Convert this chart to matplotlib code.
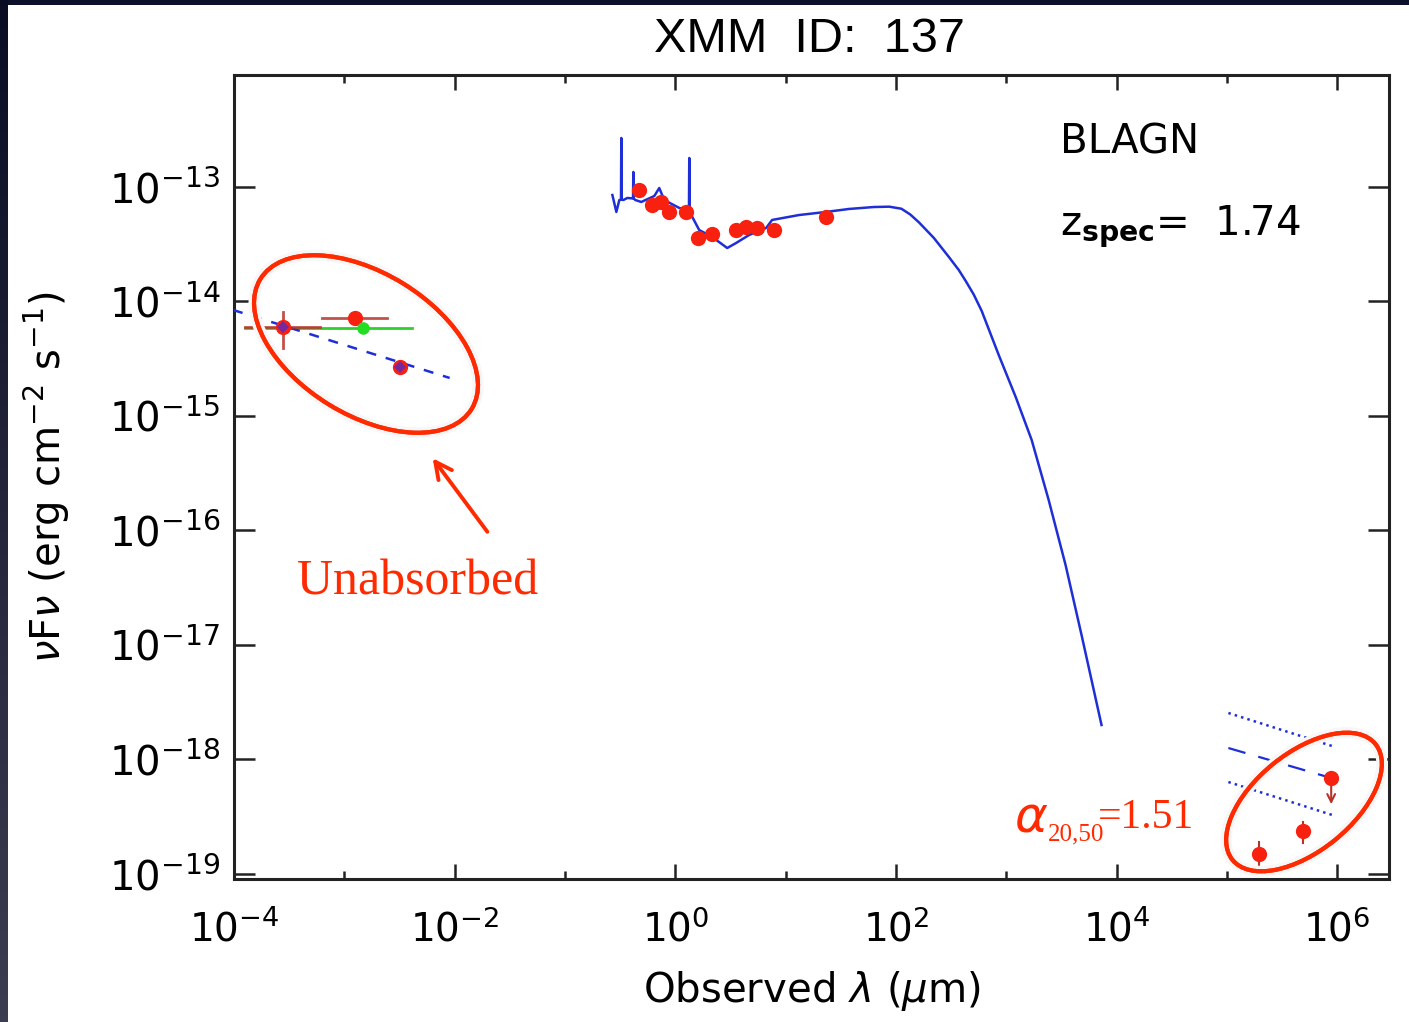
import numpy as np;
import matplotlib;
matplotlib.use( "Agg" );
import matplotlib.pyplot as plt;
import matplotlib.patheffects as pe;
from matplotlib.patches import Ellipse;
from matplotlib.ticker import FixedLocator, LogFormatterSciNotation, NullFormatter, NullLocator;

# All values are log10.

# Best fit SED template (blue solid).

model_log_lam  = [ -0.570, -0.534, -0.507, -0.492, -0.489, -0.486, -0.471, -0.434, -0.383, -0.380, -0.377,
                   -0.362, -0.308, -0.190, -0.145, -0.100, 0.036, 0.109, 0.124, 0.127, 0.130, 0.145, 0.217,
                   0.335, 0.471, 0.552, 0.670, 0.824, 0.878, 1.122, 1.367, 1.575, 1.800, 1.940, 2.050, 2.130, 2.210,
                   2.344, 2.480, 2.570, 2.633, 2.706, 2.778, 2.932, 3.086, 3.231, 3.385, 3.538, 3.683, 3.864 ];
model_log_flux = [ -13.070, -13.218, -13.114, -13.110, -12.572, -13.110, -13.114, -13.096, -13.100, -12.869, -13.100,
                   -13.114, -13.131, -13.079, -13.009, -13.114, -13.183, -13.201, -13.210, -12.747, -13.215, -13.245, -13.376,
                   -13.437, -13.533, -13.489, -13.419, -13.358, -13.288, -13.245, -13.218, -13.192, -13.175, -13.172, -13.190, -13.240, -13.310,
                   -13.445, -13.611, -13.725, -13.821, -13.940, -14.083, -14.467, -14.834, -15.210, -15.734, -16.301, -16.913, -17.699 ];

# Optical / IR photometry.

phot_log_lam  = [ -0.326, -0.208, -0.127, -0.054, 0.100, 0.208, 0.335, 0.552, 0.643, 0.742, 0.896, 1.367 ];
phot_log_flux = [ -13.026, -13.157, -13.131, -13.218, -13.218, -13.445, -13.410, -13.376, -13.349, -13.358, -13.376, -13.262 ];

# X-ray points.

xray_log_lam     = [ -3.557, -2.905, -2.498 ];
xray_log_flux    = [ -14.223, -14.144, -14.572 ];
xray_log_lam_lo  = [ -3.900, -3.204, -2.540 ];
xray_log_lam_hi  = [ -3.222, -2.615, -2.455 ];
xray_log_flux_lo = [ -14.406, -14.170, -14.600 ];
xray_log_flux_hi = [ -14.092, -14.118, -14.545 ];

xray_fit_log_lam  = [ -3.557, -2.498 ];
xray_fit_log_flux = [ -14.223, -14.572 ];

xray_pl_log_lam  = [ -4.009, -2.045 ];
xray_pl_log_flux = [ -14.074, -14.668 ];

unabs_log_lam   = -2.833;
unabs_log_flux  = -14.231;
unabs_band_lam  = [ -3.900, -2.389 ];

# Radio points.

radio_log_lam     = [ 5.294, 5.692, 5.946 ];
radio_log_flux    = [ -18.825, -18.624, -18.162 ];
radio_log_flux_lo = [ -18.965, -18.729 ];
radio_log_flux_hi = [ -18.721, -18.546 ];
radio_limit_flux  = -18.415;

radio_mid_lam   = [ 5.014, 5.946 ];
radio_mid_flux  = [ -17.900, -18.162 ];
radio_up_lam    = [ 5.014, 5.982 ];
radio_up_flux   = [ -17.594, -17.891 ];
radio_low_lam   = [ 5.014, 5.982 ];
radio_low_flux  = [ -18.197, -18.493 ];

x_major = [ -4, -2, 0, 2, 4, 6 ];
x_minor = [ -3, -1, 1, 3, 5 ];
y_major = [ -19, -18, -17, -16, -15, -14, -13 ];

def p( v ):
	return 10.0 ** np.asarray( v, dtype = float );

#--------------------------------------------------------------------------

W, H = 1409, 1022;

fig = plt.figure( figsize = ( W / 100.0, H / 100.0 ), dpi = 100 );
fig.patch.set_facecolor( "#0d1029" );

# Slide background: dark strip on the left, white panel.

grad = np.linspace( 0.0, 1.0, H )[ :, None ];
top_c = np.array( [ 0.04, 0.05, 0.14 ] );
bot_c = np.array( [ 0.24, 0.24, 0.32 ] );
strip = ( top_c[ None, None, : ] * ( 1 - grad[ :, :, None ] ) + bot_c[ None, None, : ] * grad[ :, :, None ] );
strip = np.repeat( strip, 8, axis = 1 );
fig.figimage( strip, xo = 0, yo = 0, origin = "upper" );

fig.patches.append( plt.Rectangle( ( 8.0 / W, 0.0 ), 1.0, ( H - 5.0 ) / H, transform = fig.transFigure,
                                   facecolor = "white", edgecolor = "none", zorder = -10 ) );

#--------------------------------------------------------------------------

ax = fig.add_axes( [ 234.0 / W, 1 - 879.0 / H, ( 1389.0 - 234.0 ) / W, ( 879.0 - 75.0 ) / H ] );
ax.set_facecolor( "white" );
ax.set_xscale( "log" );
ax.set_yscale( "log" );
ax.set_xlim( 1e-4, 10 ** 6.47 );
ax.set_ylim( 10 ** -19.044, 10 ** -12.022 );

ax.xaxis.set_major_locator( FixedLocator( p( x_major ) ) );
ax.xaxis.set_minor_locator( FixedLocator( p( x_minor ) ) );
ax.xaxis.set_major_formatter( LogFormatterSciNotation( ) );
ax.xaxis.set_minor_formatter( NullFormatter( ) );
ax.yaxis.set_major_locator( FixedLocator( p( y_major ) ) );
ax.yaxis.set_minor_locator( NullLocator( ) );
ax.yaxis.set_major_formatter( LogFormatterSciNotation( ) );

for s in ax.spines.values( ):
	s.set_linewidth( 2.2 );
	s.set_color( "#222222" );

ax.tick_params( which = "both", direction = "in", top = True, right = True, color = "#222222", width = 1.8 );
ax.tick_params( axis = "x", which = "major", length = 11, labelsize = 28, pad = 22 );
ax.tick_params( axis = "x", which = "minor", length = 6 );
ax.tick_params( axis = "y", which = "major", length = 15, labelsize = 29, pad = 10 );

ax.set_xlabel( r"Observed $\lambda$ ($\mu$m)", fontsize = 29, labelpad = 14 );
ax.set_ylabel( r"$\nu$F$\nu$ (erg cm$^{-2}$ s$^{-1}$)", fontsize = 29, labelpad = 26 );

blue = "#1f2fd8";
red  = "#f8200f";
dred = "#b8322a";

# Template.

ax.plot( p( model_log_lam ), p( model_log_flux ), "-", color = blue, linewidth = 1.8, zorder = 3 );

# Photometry.

ax.plot( p( phot_log_lam ), p( phot_log_flux ), "o", color = red, markersize = 11, markeredgewidth = 0, zorder = 4 );

# X-ray.

ax.plot( p( xray_pl_log_lam ), p( xray_pl_log_flux ), color = blue, linewidth = 1.8, dashes = ( 4, 4 ), zorder = 3 );
ax.plot( p( unabs_band_lam ), p( [ unabs_log_flux, unabs_log_flux ] ), "-", color = "#2fd02a", linewidth = 2.0, zorder = 2 );

for i in range( len( xray_log_lam ) ):
	x0 = p( xray_log_lam[ i ] );
	y0 = p( xray_log_flux[ i ] );
	ax.plot( p( [ xray_log_lam_lo[ i ], xray_log_lam_hi[ i ] ] ), [ y0, y0 ], "-", color = dred, linewidth = 2.0, alpha = 0.85, zorder = 3 );
	ax.plot( [ x0, x0 ], p( [ xray_log_flux_lo[ i ], xray_log_flux_hi[ i ] ] ), "-", color = dred, linewidth = 2.0, alpha = 0.85, zorder = 3 );

ax.plot( p( xray_log_lam ), p( xray_log_flux ), "o", color = red, markersize = 11, markeredgewidth = 0, zorder = 4 );
ax.plot( p( [ unabs_log_lam ] ), p( [ unabs_log_flux ] ), "o", color = "#22dd22", markersize = 9, markeredgewidth = 0, zorder = 5 );
ax.plot( p( xray_fit_log_lam ), p( xray_fit_log_flux ), "D", color = "#4b2bd0", markersize = 6, alpha = 0.75, markeredgewidth = 0, zorder = 5 );

# Radio.

ax.plot( p( radio_mid_lam ), p( radio_mid_flux ), color = blue, linewidth = 1.6, dashes = ( 8, 6 ), zorder = 3 );
ax.plot( p( radio_up_lam ), p( radio_up_flux ), ":", color = blue, linewidth = 1.8, zorder = 3 );
ax.plot( p( radio_low_lam ), p( radio_low_flux ), ":", color = blue, linewidth = 1.8, zorder = 3 );

for i in range( 2 ):
	ax.plot( [ p( radio_log_lam[ i ] ) ] * 2, p( [ radio_log_flux_lo[ i ], radio_log_flux_hi[ i ] ] ), "-", color = dred, linewidth = 1.5, zorder = 3 );

ax.annotate( "", xy = ( p( radio_log_lam[ 2 ] ), p( radio_limit_flux ) ), xytext = ( p( radio_log_lam[ 2 ] ), p( radio_log_flux[ 2 ] ) ),
             arrowprops = dict( arrowstyle = "->", color = dred, linewidth = 1.5, mutation_scale = 14 ), zorder = 3 );
ax.plot( p( radio_log_lam ), p( radio_log_flux ), "o", color = red, markersize = 11, markeredgewidth = 0, zorder = 4 );

# Labels inside the plot.

ax.text( 1060.0 / W, 1 - 143.0 / H, "BLAGN", transform = fig.transFigure, fontsize = 29, va = "center", ha = "left" );
ax.text( 1060.0 / W, 1 - 227.0 / H, r"z$_{\mathbf{spec}}$=  1.74", transform = fig.transFigure, fontsize = 29, va = "center", ha = "left" );

fig.text( 810.0 / W, 1 - 40.0 / H, "XMM  ID:  137", fontsize = 35, ha = "center", va = "center",
          family = [ "Liberation Sans Narrow", "Liberation Sans", "DejaVu Sans" ] );

#--------------------------------------------------------------------------

# Slide annotations, placed in figure pixels.

ov = fig.add_axes( [ 0, 0, 1, 1 ] );
ov.set_xlim( 0, W );
ov.set_ylim( H, 0 );
ov.axis( "off" );
ov.patch.set_alpha( 0.0 );

ann = "#ff2a00";
glow = [ pe.withStroke( linewidth = 8, foreground = "#f7f7f7" ), pe.Normal( ) ];

ov.add_patch( Ellipse( ( 366, 344 ), 2 * 124, 2 * 71, angle = 31.6, fill = False, edgecolor = ann, linewidth = 3.0, path_effects = glow ) );
ov.add_patch( Ellipse( ( 1304, 802 ), 2 * 92, 2 * 49, angle = -39, fill = False, edgecolor = ann, linewidth = 3.0, path_effects = glow ) );

ov.annotate( "", xy = ( 431, 456 ), xytext = ( 489, 534 ),
             arrowprops = dict( arrowstyle = "->", color = ann, linewidth = 2.8, mutation_scale = 30 ) );

ov.text( 418, 582, "Unabsorbed", color = ann, fontsize = 36, ha = "center", va = "center", family = "Liberation Serif" );

ov.text( 1014, 818, r"$\alpha$", color = ann, fontsize = 36, ha = "left", va = "center" );
ov.text( 1048, 834, "20,50", color = ann, fontsize = 18, ha = "left", va = "center", family = "Liberation Serif" );
ov.text( 1098, 818, "=1.51", color = ann, fontsize = 30, ha = "left", va = "center", family = "Liberation Serif" );

fig.savefig( "out.png", dpi = 100, facecolor = fig.get_facecolor( ) );
